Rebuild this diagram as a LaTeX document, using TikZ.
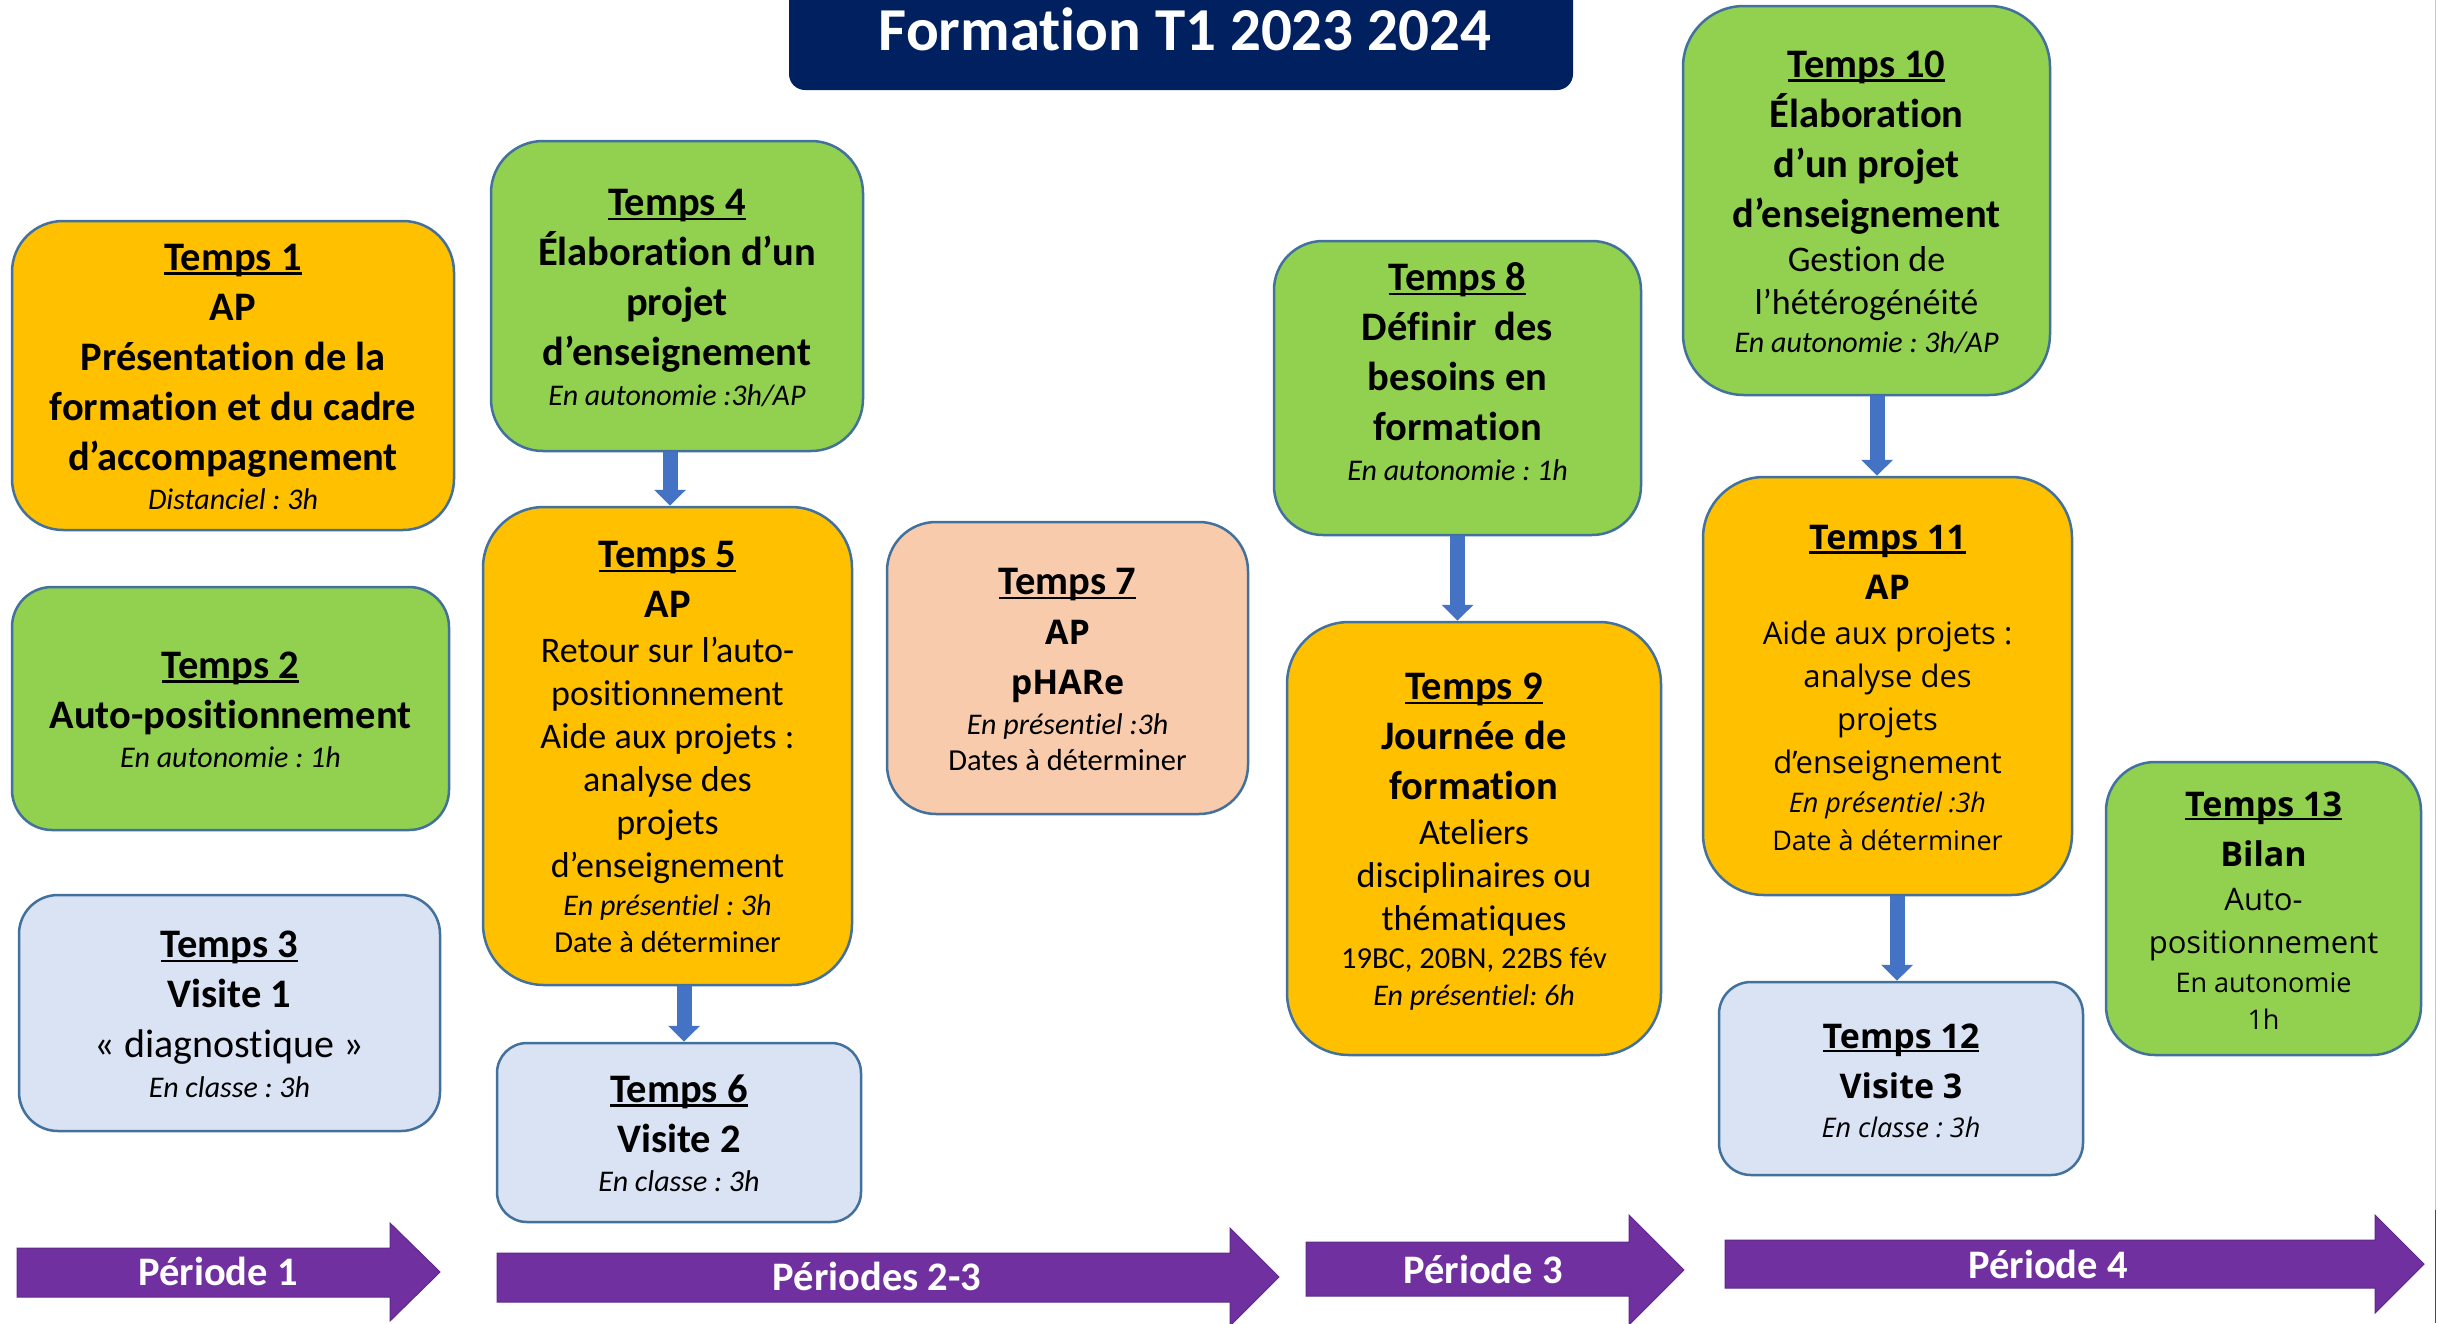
\documentclass[tikz,border=0pt]{standalone}
\usepackage{fontspec}
\setmainfont{Carlito}[Ligatures={TeX,NoCommon,NoContextual,NoRequired},Contextuals=NoAlternate]
\newfontfamily\osans{Open Sans}
\usetikzlibrary{arrows.meta}
\definecolor{corange}{HTML}{FFC000}
\definecolor{cgreen}{HTML}{92D050}
\definecolor{clblue}{HTML}{DAE3F3}
\definecolor{cpeach}{HTML}{F8CBAD}
\definecolor{cpurple}{HTML}{7030A0}
\definecolor{cnavy}{HTML}{002060}
\definecolor{cblue}{HTML}{4472C4}
\definecolor{cborder}{HTML}{41719C}
\frenchspacing

\newcommand\tu[1]{\begingroup\setbox0\hbox{#1}\rlap{\rule[-0.12em]{\wd0}{0.07em}}\box0\endgroup}
\newcommand\tline[3]{\rule[-\dimexpr#1pt*25/100\relax]{0pt}{#1pt}#2#3}
\newcommand\tb[1]{\vbox{\offinterlineskip\halign{\hfil##\hfil\cr#1\crcr}}}

\newcommand\fH{\bfseries\fontsize{40.5}{0}\selectfont}
\newcommand\fR{\fontsize{36}{0}\selectfont}
\newcommand\fD{\fontsize{40}{0}\selectfont}
\newcommand\fI{\itshape\fontsize{30}{0}\selectfont}
\newcommand\fS{\fontsize{30.5}{0}\selectfont}
\newcommand\oH{\osans\bfseries\fontsize{34}{0}\selectfont}
\newcommand\oR{\osans\fontsize{31}{0}\selectfont}
\newcommand\oI{\osans\itshape\fontsize{27}{0}\selectfont}
\newcommand\oS{\osans\fontsize{27}{0}\selectfont}

\tikzset{
  tboxst/.style={draw=cborder, line width=2.5pt, inner sep=0pt, rectangle},
  conn/.style={draw=cblue, line width=15pt, -{Triangle[width=31pt,length=16pt]}},
  plabel/.style={text=white, font=\bfseries\fontsize{40.5}{40.5}\selectfont, inner sep=0pt, anchor=base},
  parrow/.style={fill=cpurple, draw=cpurple!85!black, line width=1pt},
}
\newcommand\tbox[8]{\node[tboxst, fill=#2, minimum width=#5pt, minimum height=#6pt, rounded corners=#7pt] (#1) at (#3,#4) {\tb{#8}};}

\begin{document}
\begin{tikzpicture}[x=1pt,y=-1pt]
\useasboundingbox (0,0) rectangle (2437,1323);
\fill[white] (0,0) rectangle (2437,1323);

% title
\fill[cnavy] [rounded corners=16pt] (789,-40) rectangle (1573,90);
\node[text=white, font=\bfseries\fontsize{61}{61}\selectfont, inner sep=0pt, anchor=base] (title) at (1185,50) {Formation T1 2023 2024};

% right edge line
\draw[gray!45, line width=1.5pt] (2435.5,0) -- (2435.5,1210);
\draw[brown!55!black, line width=1.5pt] (2435.5,1210) -- (2435.5,1323);

\tbox{t1}{corange}{233}{375.5}{442}{309}{51}{%
\tline{50}{\fH}{\tu{Temps 1}}\cr
\tline{50}{\fH}{AP}\cr
\tline{50}{\fH}{Présentation de la}\cr
\tline{50}{\fH}{formation et du cadre}\cr
\tline{50}{\fH}{d’accompagnement}\cr
\tline{36}{\fI}{Distanciel : 3h}}

\tbox{t2}{cgreen}{230.5}{708.5}{437}{243}{40}{%
\tline{50}{\fH}{\tu{Temps 2}}\cr
\tline{50}{\fH}{Auto-positionnement}\cr
\tline{36}{\fI}{En autonomie : 1h}}

\tbox{t3}{clblue}{229.5}{1013}{421}{236}{39}{%
\tline{50}{\fH}{\tu{Temps 3}}\cr
\tline{50}{\fH}{Visite 1}\cr
\tline{50}{\fD}{«~diagnostique~»}\cr
\tline{36}{\fI}{En classe : 3h}}

\tbox{t4}{cgreen}{677}{296}{372}{310}{52}{%
\tline{50}{\fH}{\tu{Temps 4}}\cr
\tline{50}{\fH}{Élaboration d’un}\cr
\tline{50}{\fH}{projet}\cr
\tline{50}{\fH}{d’enseignement}\cr
\tline{36}{\fI}{En autonomie :3h/AP}}

\tbox{t5}{corange}{667.5}{746}{369}{478}{61}{%
\tline{50}{\fH}{\tu{Temps 5}}\cr
\tline{50}{\fH}{AP}\cr
\tline{43}{\fR}{Retour sur l’auto-}\cr
\tline{43}{\fR}{positionnement}\cr
\tline{43}{\fR}{Aide aux projets :}\cr
\tline{43}{\fR}{analyse des}\cr
\tline{43}{\fR}{projets}\cr
\tline{43}{\fR}{d’enseignement}\cr
\tline{37}{\fI}{En présentiel : 3h}\cr
\tline{37}{\fS}{Date à déterminer}}

\tbox{t6}{clblue}{679}{1132.5}{364}{179}{30}{%
\tline{50}{\fH}{\tu{Temps 6}}\cr
\tline{50}{\fH}{Visite 2}\cr
\tline{36}{\fI}{En classe : 3h}}

\tbox{t7}{cpeach}{1067.5}{668}{361}{292}{49}{%
\tline{50}{\fH}{\tu{Temps 7}}\cr
\tline{50}{\oH}{AP}\cr
\tline{50}{\oH}{pHARe}\cr
\tline{36}{\fI}{En présentiel :3h}\cr
\tline{36}{\fS}{Dates à déterminer}}

\tbox{t8}{cgreen}{1457.5}{388}{367}{294}{49}{%
\tline{50}{\fH}{\tu{Temps 8}}\cr
\tline{50}{\fH}{Définir~ des}\cr
\tline{50}{\fH}{besoins en}\cr
\tline{50}{\fH}{formation}\cr
\tline{36}{\fI}{En autonomie : 1h}\cr
\tline{34}{}{}}

\tbox{t9}{corange}{1474}{838.5}{374}{433}{62}{%
\tline{50}{\fH}{\tu{Temps 9}}\cr
\tline{50}{\fH}{Journée de}\cr
\tline{50}{\fH}{formation}\cr
\tline{43}{\fR}{Ateliers}\cr
\tline{43}{\fR}{disciplinaires ou}\cr
\tline{43}{\fR}{thématiques}\cr
\tline{37}{\fS}{19BC, 20BN, 22BS fév}\cr
\tline{37}{\fI}{En présentiel: 6h}}

\tbox{t10}{cgreen}{1866.5}{200.5}{367}{389}{61}{%
\tline{50}{\fH}{\tu{Temps 10}}\cr
\tline{50}{\fH}{Élaboration}\cr
\tline{50}{\fH}{d’un projet}\cr
\tline{50}{\fH}{d’enseignement}\cr
\tline{43}{\fR}{Gestion de}\cr
\tline{43}{\fR}{l’hétérogénéité}\cr
\tline{36}{\fI}{En autonomie : 3h/AP}}

\tbox{t11}{corange}{1887.5}{686}{369}{418}{61}{%
\tline{50}{\oH}{\tu{Temps 11}}\cr
\tline{50}{\oH}{AP}\cr
\tline{43}{\oR}{Aide aux projets :}\cr
\tline{43}{\oR}{analyse des}\cr
\tline{43}{\oR}{projets}\cr
\tline{43}{\oR}{d’enseignement}\cr
\tline{38}{\oI}{En présentiel :3h}\cr
\tline{38}{\oS}{Date à déterminer}}

\tbox{t12}{clblue}{1901}{1078.5}{364}{193}{32}{%
\tline{50}{\oH}{\tu{Temps 12}}\cr
\tline{50}{\oH}{Visite 3}\cr
\tline{36}{\oI}{En classe : 3h}}

\tbox{t13}{cgreen}{2263.5}{908.5}{315}{293}{49}{%
\tline{50}{\oH}{\tu{Temps 13}}\cr
\tline{50}{\oH}{Bilan}\cr
\tline{43}{\oR}{Auto-}\cr
\tline{43}{\oR}{positionnement}\cr
\tline{37}{\oS}{En autonomie}\cr
\tline{37}{\oS}{1h}}

% connectors
\draw[conn] ([xshift=-7pt]t4.south) -- ([xshift=-7pt]t4.south |- t5.north);
\draw[conn] ([xshift=16.5pt]t5.south) -- ([xshift=16.5pt]t5.south |- t6.north);
\draw[conn] (t8.south) -- (t8.south |- t9.north);
\draw[conn] ([xshift=10.5pt]t10.south) -- ([xshift=10.5pt]t10.south |- t11.north);
\draw[conn] ([xshift=9.5pt]t11.south) -- ([xshift=9.5pt]t11.south |- t12.north);

% period arrows
\path[parrow] (17,1248) -- (390,1248) -- (390,1223) -- (440,1272) -- (390,1321) -- (390,1297) -- (17,1297) -- cycle;
\node[plabel] (p1) at (218,1285) {Période 1};
\path[parrow] (497,1253) -- (1230,1253) -- (1230,1228) -- (1279,1277) -- (1230,1326) -- (1230,1302) -- (497,1302) -- cycle;
\node[plabel] (p2) at (877,1290) {Périodes 2-3};
\path[parrow] (1306,1242) -- (1629,1242) -- (1629,1215) -- (1684,1270) -- (1629,1325) -- (1629,1296) -- (1306,1296) -- cycle;
\node[plabel] (p3) at (1483,1283) {Période 3};
\path[parrow] (1725,1240) -- (2375,1240) -- (2375,1215) -- (2424,1264) -- (2375,1313) -- (2375,1288) -- (1725,1288) -- cycle;
\node[plabel] (p4) at (2048,1278) {Période 4};
\end{tikzpicture}
\end{document}
